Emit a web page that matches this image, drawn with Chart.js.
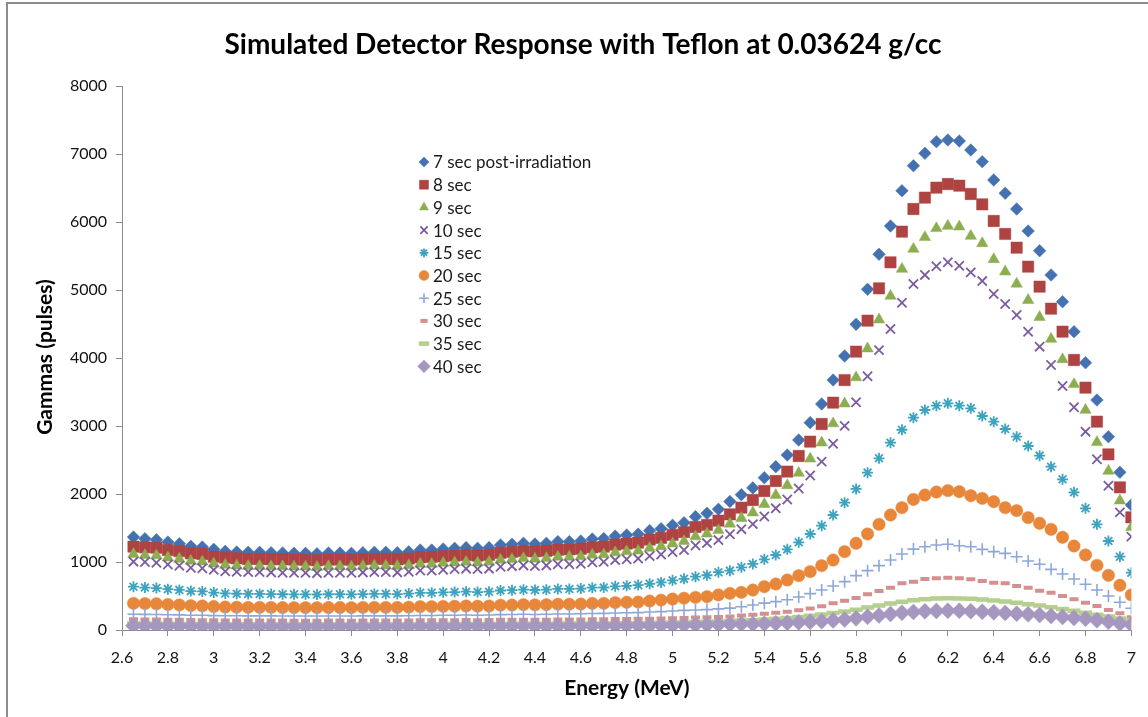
<!DOCTYPE html>
<html>
<head>
<meta charset="utf-8">
<script src="https://cdn.jsdelivr.net/npm/chart.js@4.4.1/dist/chart.umd.min.js"></script>
<style>
  html, body { margin: 0; padding: 0; background: #fff; }
  #wrap { position: relative; width: 1148px; height: 717px; overflow: hidden; }
  #frame { position: absolute; left: 6px; top: 2px; width: 1200px; height: 800px;
           border-left: 2px solid #8c8c8c; border-top: 2px solid #8c8c8c; pointer-events: none; }
  canvas { position: absolute; left: 0; top: 0; }
</style>
</head>
<body>
<div id="wrap">
  <canvas id="chart" width="1148" height="717"></canvas>
  <div id="frame"></div>
</div>
<script>
// energy (MeV) of every point
const energy = [
  2.65, 2.7, 2.75, 2.8, 2.85, 2.9, 2.95, 3, 3.05, 3.1,
  3.15, 3.2, 3.25, 3.3, 3.35, 3.4, 3.45, 3.5, 3.55, 3.6,
  3.65, 3.7, 3.75, 3.8, 3.85, 3.9, 3.95, 4, 4.05, 4.1,
  4.15, 4.2, 4.25, 4.3, 4.35, 4.4, 4.45, 4.5, 4.55, 4.6,
  4.65, 4.7, 4.75, 4.8, 4.85, 4.9, 4.95, 5, 5.05, 5.1,
  5.15, 5.2, 5.25, 5.3, 5.35, 5.4, 5.45, 5.5, 5.55, 5.6,
  5.65, 5.7, 5.75, 5.8, 5.85, 5.9, 5.95, 6, 6.05, 6.1,
  6.15, 6.2, 6.25, 6.3, 6.35, 6.4, 6.45, 6.5, 6.55, 6.6,
  6.65, 6.7, 6.75, 6.8, 6.85, 6.9, 6.95, 7
];
const xTicks = [2.6, 2.8, 3, 3.2, 3.4, 3.6, 3.8, 4, 4.2, 4.4, 4.6, 4.8, 5, 5.2, 5.4, 5.6, 5.8, 6, 6.2, 6.4, 6.6, 6.8, 7];
const yTicks = [0, 1000, 2000, 3000, 4000, 5000, 6000, 7000, 8000];

const seriesNames = ['7 sec post-irradiation', '8 sec', '9 sec', '10 sec', '15 sec', '20 sec', '25 sec', '30 sec', '35 sec', '40 sec'];

const sec7 = [
  1366, 1342, 1327, 1293, 1269, 1230, 1220, 1186, 1157, 1147,
  1142, 1142, 1137, 1132, 1127, 1127, 1122, 1132, 1132, 1127,
  1137, 1142, 1142, 1137, 1150, 1176, 1176, 1191, 1201, 1211,
  1201, 1211, 1250, 1260, 1275, 1265, 1275, 1299, 1299, 1309,
  1338, 1345, 1380, 1397, 1410, 1461, 1490, 1540, 1578, 1667,
  1716, 1775, 1890, 1990, 2090, 2240, 2402, 2574, 2794, 3049,
  3324, 3676, 4029, 4495, 5010, 5525, 5941, 6460, 6828, 7010,
  7181, 7206, 7191, 7059, 6887, 6618, 6422, 6191, 5868, 5578,
  5221, 4828, 4387, 3931, 3382, 2843, 2319, 1838
];
const sec8 = [
  1225, 1216, 1211, 1176, 1160, 1127, 1118, 1078, 1064, 1054,
  1044, 1044, 1039, 1039, 1035, 1030, 1025, 1035, 1035, 1030,
  1040, 1045, 1044, 1040, 1050, 1070, 1075, 1085, 1095, 1100,
  1095, 1105, 1135, 1150, 1160, 1155, 1165, 1180, 1185, 1195,
  1215, 1225, 1255, 1270, 1285, 1330, 1355, 1400, 1440, 1515,
  1545, 1608, 1701, 1799, 1912, 2044, 2191, 2330, 2559, 2770,
  3029, 3343, 3676, 4093, 4549, 5025, 5407, 5858, 6191, 6358,
  6505, 6559, 6534, 6412, 6260, 6015, 5824, 5622, 5343, 5049,
  4725, 4387, 3971, 3564, 3064, 2583, 2098, 1657
];
const sec9 = [
  1115, 1100, 1095, 1065, 1045, 1015, 1005, 975, 955, 945,
  940, 940, 935, 935, 930, 930, 925, 935, 935, 930,
  940, 945, 945, 940, 950, 970, 970, 985, 990, 1000,
  990, 1000, 1030, 1040, 1055, 1045, 1055, 1075, 1075, 1080,
  1105, 1110, 1140, 1155, 1165, 1205, 1230, 1270, 1305, 1375,
  1415, 1466, 1561, 1644, 1726, 1850, 1984, 2126, 2308, 2518,
  2755, 3036, 3328, 3713, 4138, 4564, 4912, 5309, 5603, 5775,
  5907, 5941, 5931, 5794, 5686, 5451, 5269, 5090, 4850, 4600,
  4279, 3980, 3613, 3235, 2760, 2338, 1902, 1510
];
const sec10 = [
  1005, 1000, 989, 963, 945, 916, 909, 884, 862, 855,
  851, 851, 847, 843, 840, 840, 836, 843, 843, 840,
  847, 851, 851, 847, 857, 876, 876, 887, 895, 902,
  895, 902, 931, 939, 950, 942, 950, 968, 968, 975,
  997, 1002, 1028, 1041, 1050, 1088, 1110, 1147, 1176, 1242,
  1278, 1322, 1408, 1483, 1557, 1669, 1789, 1918, 2082, 2272,
  2476, 2739, 3002, 3349, 3732, 4116, 4426, 4813, 5087, 5222,
  5350, 5407, 5357, 5259, 5131, 4941, 4794, 4632, 4387, 4167,
  3897, 3588, 3275, 2917, 2510, 2122, 1730, 1373
];
const sec15 = [
  637, 624, 617, 601, 590, 572, 567, 551, 538, 533,
  531, 531, 529, 526, 524, 524, 522, 526, 526, 524,
  529, 531, 531, 529, 535, 547, 547, 554, 558, 563,
  558, 563, 581, 586, 593, 588, 593, 604, 604, 609,
  622, 625, 642, 650, 660, 679, 700, 730, 752, 784,
  805, 850, 873, 922, 971, 1039, 1103, 1186, 1289, 1412,
  1534, 1691, 1873, 2074, 2314, 2525, 2755, 2945, 3123, 3235,
  3299, 3333, 3299, 3260, 3147, 3064, 2956, 2843, 2706, 2564,
  2402, 2216, 2025, 1789, 1554, 1309, 1078, 843
];
const sec20 = [
  392, 388, 385, 375, 368, 358, 355, 345, 338, 335,
  333, 333, 332, 330, 329, 329, 328, 330, 330, 329,
  332, 333, 333, 332, 336, 343, 343, 347, 350, 353,
  350, 353, 365, 367, 372, 369, 372, 379, 379, 382,
  390, 392, 402, 407, 411, 426, 440, 455, 468, 480,
  490, 515, 539, 554, 588, 637, 676, 735, 799, 858,
  946, 1029, 1152, 1275, 1412, 1554, 1691, 1799, 1920, 1985,
  2029, 2049, 2034, 1975, 1936, 1887, 1799, 1755, 1652, 1569,
  1480, 1363, 1235, 1103, 951, 804, 657, 515
];
const sec25 = [
  232, 230, 228, 224, 222, 218, 216, 212, 210, 209,
  208, 208, 207, 206, 206, 206, 205, 206, 206, 206,
  207, 208, 208, 207, 210, 214, 214, 216, 218, 220,
  218, 220, 226, 228, 231, 229, 231, 236, 236, 238,
  243, 244, 250, 253, 256, 264, 270, 280, 288, 295,
  300, 310, 322, 343, 368, 395, 417, 445, 485, 535,
  588, 647, 711, 799, 873, 946, 1029, 1118, 1190, 1225,
  1250, 1260, 1240, 1225, 1186, 1152, 1127, 1078, 1015, 966,
  892, 824, 750, 672, 588, 500, 407, 319
];
const sec30 = [
  158, 156, 154, 151, 149, 146, 145, 142, 140, 139,
  139, 139, 138, 138, 137, 137, 137, 138, 138, 137,
  138, 139, 139, 138, 140, 142, 142, 144, 145, 146,
  145, 146, 149, 150, 152, 151, 152, 155, 155, 156,
  158, 159, 162, 163, 164, 166, 170, 174, 178, 182,
  186, 192, 200, 212, 225, 240, 255, 270, 290, 318,
  350, 395, 430, 470, 525, 574, 622, 686, 711, 750,
  760, 770, 760, 745, 721, 696, 686, 647, 622, 578,
  549, 500, 451, 402, 353, 294, 245, 186
];
const sec35 = [
  95, 94, 93, 91, 90, 88, 87, 86, 85, 84,
  84, 84, 84, 83, 83, 83, 83, 83, 83, 83,
  84, 84, 84, 84, 85, 86, 86, 87, 88, 88,
  88, 88, 90, 91, 92, 91, 92, 94, 94, 95,
  97, 97, 99, 100, 101, 104, 106, 109, 111, 117,
  120, 124, 131, 138, 145, 155, 165, 176, 190, 208,
  228, 250, 272, 298, 330, 360, 390, 415, 438, 452,
  462, 466, 465, 458, 450, 432, 418, 400, 380, 360,
  335, 310, 282, 252, 225, 198, 170, 145
];
const sec40 = [
  62, 61, 60, 58, 57, 55, 55, 53, 52, 52,
  51, 51, 51, 51, 50, 50, 50, 51, 51, 50,
  51, 51, 51, 51, 52, 53, 53, 54, 54, 55,
  54, 55, 56, 57, 58, 57, 58, 59, 59, 60,
  61, 62, 63, 64, 65, 67, 68, 70, 72, 76,
  78, 81, 86, 88, 90, 93, 99, 105, 112, 120,
  130, 140, 155, 172, 195, 215, 235, 255, 266, 274,
  280, 284, 282, 276, 268, 260, 250, 240, 230, 220,
  205, 192, 178, 165, 142, 120, 97, 76
];

const allSeries = [sec7, sec8, sec9, sec10, sec15, sec20, sec25, sec30, sec35, sec40];

// marker look for each series (Excel-like)
const markers = [
  { shape: 'rectRot',  r: 6.3, bw: 0.5, color: '#4472B0' },
  { shape: 'rect',     r: 8,   bw: 0.5, color: '#AE4341' },
  { shape: 'triangle', r: 6.6, bw: 0.5, color: '#8DAE50' },
  { shape: 'crossRot', r: 6.5, bw: 1.8, color: '#7B5CA0' },
  { shape: 'star',     r: 5.5, bw: 1.8, color: '#3DA3BE' },
  { shape: 'circle',   r: 6.2, bw: 0.5, color: '#E8863A' },
  { shape: 'cross',    r: 6,   bw: 1.6, color: '#8DA8D8' },
  { shape: 'line',     r: 4.5, bw: 4,   color: '#D48F8E' },
  { shape: 'line',     r: 6.5, bw: 4.5, color: '#B4CF8E' },
  { shape: 'rectRot',  r: 8,   bw: 0.5, color: '#A597C0' }
];

const FONT = 'Lato, "Open Sans", "DejaVu Sans", sans-serif';

const datasets = allSeries.map((vals, i) => ({
  label: seriesNames[i],
  data: energy.map((e, k) => ({ x: e, y: vals[k] })),
  showLine: false,
  pointStyle: markers[i].shape,
  pointRadius: markers[i].r,
  pointBorderWidth: markers[i].bw,
  pointBackgroundColor: markers[i].color,
  pointBorderColor: markers[i].color,
  order: allSeries.length - i
}));

// title, axis titles and the legend inside the plot
const textAndLegend = {
  id: 'textAndLegend',
  afterDraw(chart) {
    const ctx = chart.ctx;
    ctx.save();
    ctx.fillStyle = '#000';
    ctx.textAlign = 'center';
    ctx.textBaseline = 'middle';
    ctx.font = 'bold 28px ' + FONT;
    ctx.fillText('Simulated Detector Response with Teflon at 0.03624 g/cc', 583, 45);

    ctx.font = 'bold 21px ' + FONT;
    ctx.fillText('Energy (MeV)', 627, 688);
    ctx.save();
    ctx.translate(45, 357);
    ctx.rotate(-Math.PI / 2);
    ctx.fillText('Gammas (pulses)', 0, 0);
    ctx.restore();

    // legend
    ctx.textAlign = 'left';
    ctx.font = '17px ' + FONT;
    seriesNames.forEach((name, i) => {
      const y = 162 + i * 22.7;
      const m = markers[i];
      ctx.fillStyle = m.color;
      ctx.strokeStyle = m.color;
      ctx.lineWidth = m.bw;
      Chart.helpers.drawPoint(ctx, { pointStyle: m.shape, radius: m.r * 0.8, rotation: 0, borderWidth: m.bw }, 424, y);
      ctx.fillStyle = '#1a1a1a';
      ctx.fillText(name, 433, y + 1);
    });
    ctx.restore();
  }
};

new Chart(document.getElementById('chart'), {
  type: 'scatter',
  data: { datasets },
  options: {
    responsive: false,
    animation: false,
    devicePixelRatio: 1,
    layout: { padding: { top: 86, right: 16, bottom: 0, left: 0 } },
    plugins: { legend: { display: false }, tooltip: { enabled: false }, title: { display: false } },
    scales: {
      x: {
        type: 'linear',
        min: 2.6,
        max: 7,
        afterBuildTicks: s => { s.ticks = xTicks.map(v => ({ value: v })); },
        afterFit: s => { s.height = 87; },
        grid: { drawOnChartArea: false, drawTicks: true, tickLength: 6, color: '#8c8c8c' },
        border: { color: '#8c8c8c', width: 1 },
        ticks: {
          padding: 12,
          color: '#111',
          font: { family: FONT, size: 16 },
          maxRotation: 0,
          autoSkip: false,
          callback: v => String(Number(v.toFixed(1)))
        }
      },
      y: {
        min: 0,
        max: 8000,
        afterBuildTicks: s => { s.ticks = yTicks.map(v => ({ value: v })); },
        afterFit: s => { s.width = 122; },
        grid: { drawOnChartArea: false, drawTicks: true, tickLength: 6, color: '#8c8c8c' },
        border: { color: '#8c8c8c', width: 1 },
        ticks: {
          padding: 9,
          color: '#111',
          font: { family: FONT, size: 16 },
          callback: v => String(v)
        }
      }
    }
  },
  plugins: [textAndLegend]
});
</script>
</body>
</html>
